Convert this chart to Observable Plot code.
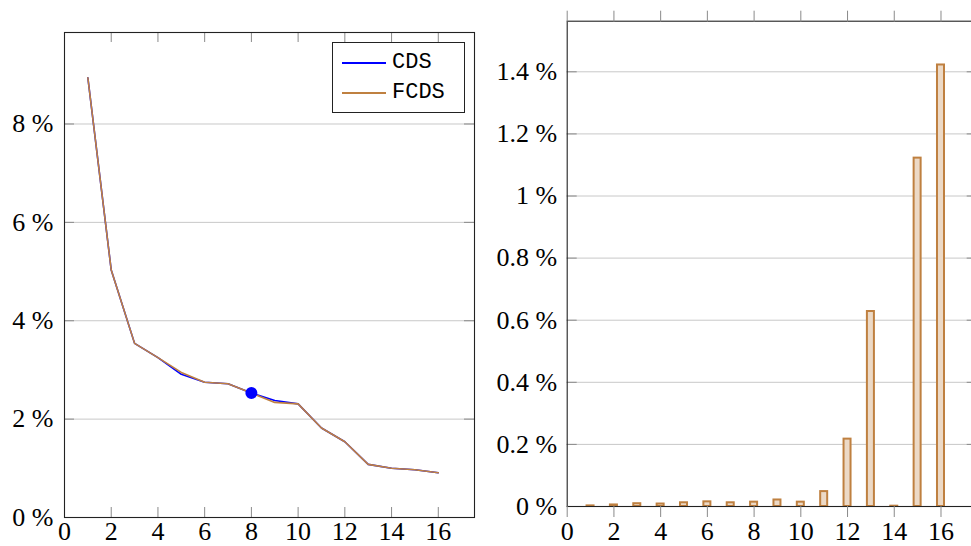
<!DOCTYPE html>
<html>
<head>
<meta charset="utf-8">
<script src="https://cdn.jsdelivr.net/npm/d3@7"></script>
<script src="https://cdn.jsdelivr.net/npm/@observablehq/plot@0.6"></script>
<style>
  html, body { margin: 0; padding: 0; background: #fff; }
  body { width: 971px; height: 546px; overflow: hidden; position: relative; }
  #left { position: absolute; left: 0; top: 0; width: 485px; height: 546px; }
  #right { position: absolute; left: 480px; top: 0; width: 500px; height: 546px; }
  svg text { font-family: "Liberation Serif", serif !important; }
  .legend { position: absolute; left: 332px; top: 42px; width: 131px; height: 69px;
    border: 1px solid #222; background: #fff; font-family: "Liberation Mono", "Courier New", monospace; font-size: 22px; color: #000; }
  .legend .swatch { position: absolute; left: 9px; width: 44px; height: 2px; }
  .legend .lab { position: absolute; left: 59px; line-height: 26px; white-space: nowrap; }
</style>
</head>
<body>
<div id="left"></div>
<div id="right"></div>
<div class="legend" id="legend"></div>
<script>
// ---- data ----
const steps = [1, 2, 3, 4, 5, 6, 7, 8, 9, 10, 11, 12, 13, 14, 15, 16];
const cds  = [8.94, 5.03, 3.54, 3.25, 2.91, 2.75, 2.72, 2.53, 2.38, 2.31, 1.82, 1.54, 1.08, 1.00, 0.97, 0.91];
const fcds = [8.94, 5.03, 3.54, 3.25, 2.95, 2.75, 2.72, 2.53, 2.34, 2.31, 1.82, 1.54, 1.08, 1.00, 0.97, 0.91];
const relDiff = [0.002, 0.005, 0.009, 0.008, 0.012, 0.015, 0.012, 0.014, 0.021, 0.014, 0.048, 0.217, 0.628, 0.001, 1.122, 1.422];
const highlightStep = [8];
const highlightValue = [2.53];
const seriesNames = ["CDS", "FCDS"];
const xTicks = [0, 2, 4, 6, 8, 10, 12, 14, 16];
const leftYTicks = [0, 2, 4, 6, 8];
const rightYTicks = [0, 0.2, 0.4, 0.6, 0.8, 1.0, 1.2, 1.4];

// ---- styling ----
const blue = "#0000ff";
const brown = "#bf8040";
const barFill = "#ecd9c6";
const gridColor = "#c8c8c8";
const tickColor = "#8a8a8a";
const frameColor = "#222";
const serifFont = "Liberation Serif";
const fontStyle = { fontFamily: serifFont, fontSize: "26px", background: "transparent", maxWidth: "none", overflow: "visible" };
const pct = d => `${d} %`;

// left panel geometry
const L = { width: 485, height: 546, marginLeft: 64, marginRight: 11, marginTop: 32, marginBottom: 29 };
const Lw = L.width - L.marginLeft - L.marginRight;
const Lh = L.height - L.marginTop - L.marginBottom;
const tickLen = 10;

const leftPlot = Plot.plot({
  ...L,
  style: fontStyle,
  x: { domain: [0, 17.55] },
  y: { domain: [0, 9.86] },
  marks: [
    Plot.ruleY(leftYTicks.filter(v => v > 0), { y: d => d, stroke: gridColor, strokeWidth: 1 }),
    Plot.tickX(xTicks, { x: d => d, insetTop: Lh - tickLen, stroke: tickColor }),
    Plot.tickX(xTicks, { x: d => d, insetBottom: Lh - tickLen, stroke: tickColor }),
    Plot.tickY(leftYTicks, { y: d => d, insetRight: Lw - tickLen, stroke: tickColor }),
    Plot.tickY(leftYTicks, { y: d => d, insetLeft: Lw - tickLen, stroke: tickColor }),
    Plot.line(steps, { x: d => d, y: (d, i) => cds[i], stroke: blue, strokeWidth: 1.6 }),
    Plot.line(steps, { x: d => d, y: (d, i) => fcds[i], stroke: brown, strokeWidth: 1.6 }),
    Plot.dot(highlightStep, { x: d => d, y: (d, i) => highlightValue[i], r: 6, fill: blue, stroke: "none" }),
    Plot.frame({ stroke: frameColor, strokeWidth: 1.1 }),
    Plot.axisX({ ticks: xTicks, tickSize: 0, tickPadding: 4.5, label: null, fill: "#000", fontFamily: serifFont, fontSize: 26 }),
    Plot.axisY({ ticks: leftYTicks, tickSize: 0, tickPadding: 11, tickFormat: pct, label: null, fill: "#000", fontFamily: serifFont, fontSize: 26 })
  ]
});
document.getElementById("left").appendChild(leftPlot);

// right panel geometry
const R = { width: 500, height: 546, marginLeft: 86.7, marginRight: 3.3, marginTop: 20.7, marginBottom: 40 };
const Rw = R.width - R.marginLeft - R.marginRight;
const barHalf = 0.15;

const rightPlot = Plot.plot({
  ...R,
  style: fontStyle,
  x: { domain: [0, 17.55] },
  y: { domain: [0, 1.563] },
  marks: [
    Plot.ruleY(rightYTicks.filter(v => v > 0), { y: d => d, stroke: gridColor, strokeWidth: 1 }),
    Plot.tickY(rightYTicks, { y: d => d, insetRight: Rw - tickLen, stroke: tickColor }),
    Plot.tickY(rightYTicks, { y: d => d, insetLeft: Rw - tickLen, stroke: tickColor }),
    Plot.rect(steps, { x1: d => d - barHalf, x2: d => d + barHalf, y1: 0, y2: (d, i) => relDiff[i], fill: barFill, stroke: brown, strokeWidth: 2 }),
    Plot.frame({ stroke: frameColor, strokeWidth: 1.1 }),
    Plot.axisX({ anchor: "top", ticks: xTicks, tickSize: 11, tickFormat: () => "", stroke: tickColor, label: null }),
    Plot.axisX({ anchor: "bottom", ticks: xTicks, tickSize: 11, tickPadding: 4, stroke: tickColor, fill: "#000", label: null, fontFamily: serifFont, fontSize: 26 }),
    Plot.axisY({ ticks: rightYTicks, tickSize: 0, tickPadding: 10, tickFormat: pct, label: null, fill: "#000", fontFamily: serifFont, fontSize: 26 })
  ]
});
document.getElementById("right").appendChild(rightPlot);

d3.selectAll("#left svg text, #right svg text").attr("font-family", serifFont);

// legend
const legend = document.getElementById("legend");
const colors = [blue, brown];
seriesNames.forEach((name, i) => {
  const top = 7 + i * 30.4;
  const sw = document.createElement("div");
  sw.className = "swatch";
  sw.style.top = (top + 12) + "px";
  sw.style.background = colors[i];
  legend.appendChild(sw);
  const lab = document.createElement("div");
  lab.className = "lab";
  lab.style.top = top + "px";
  lab.textContent = name;
  legend.appendChild(lab);
});
</script>
</body>
</html>
